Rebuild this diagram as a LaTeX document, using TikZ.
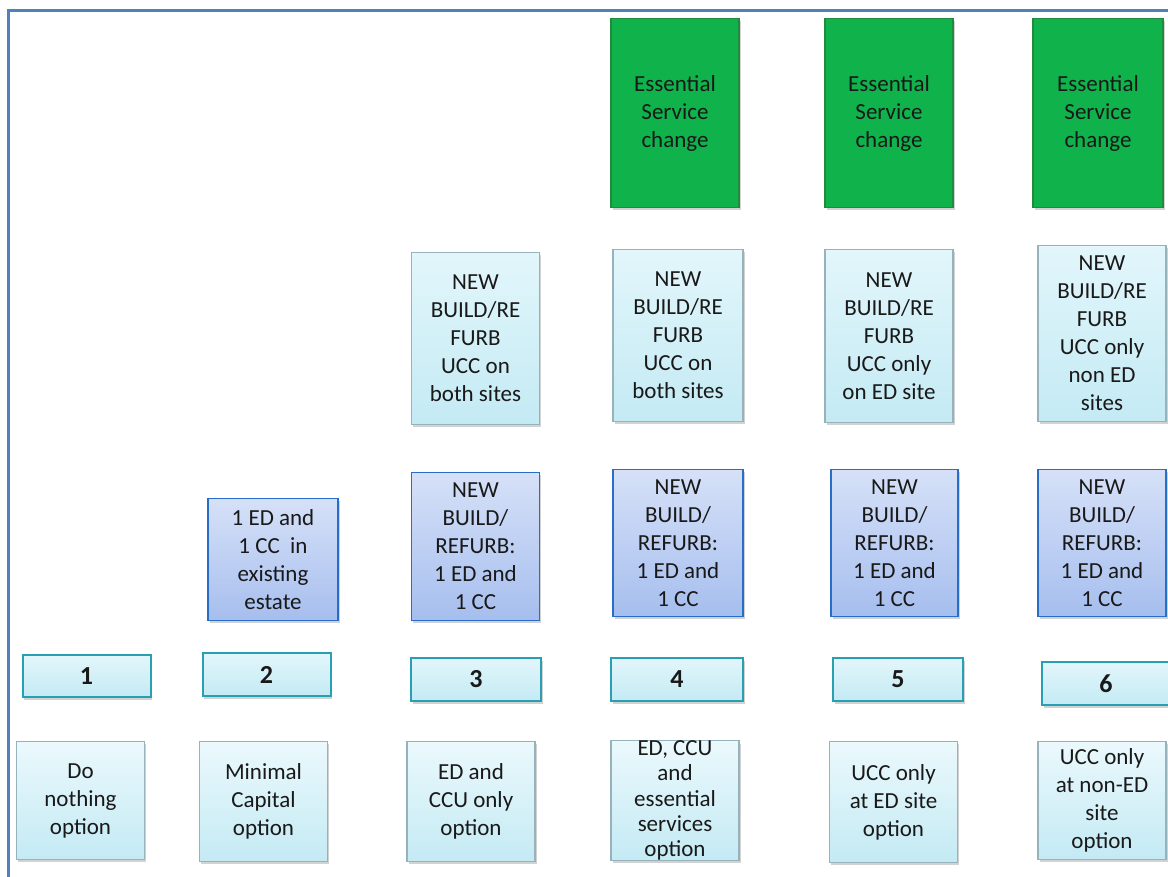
\documentclass[tikz,border=0pt]{standalone}
\usepackage{fontspec}
\setmainfont{Carlito}
\usepackage{xcolor}
\usepackage{tikz}
\usetikzlibrary{shadows}
\definecolor{frameblue}{RGB}{79,129,189}
\definecolor{esgreen}   {RGB}{16,178,76}
\definecolor{esedge}    {RGB}{30,140,60}
\definecolor{palecyan}  {RGB}{226,246,251}
\definecolor{softcyan}  {RGB}{196,234,244}
\definecolor{greyedge}  {RGB}{150,178,186}
\definecolor{paleblue}  {RGB}{214,225,248}
\definecolor{softblue}  {RGB}{166,190,238}
\definecolor{blueedge}  {RGB}{40,110,200}
\definecolor{tealedge}  {RGB}{40,160,178}

\tikzset{
  box/.style={draw, line width=0.6pt, align=center, inner sep=0pt,
    minimum width=64pt, text=black!90,
    font=\fontsize{11.5}{14}\selectfont,
    drop shadow={shadow xshift=0.8pt, shadow yshift=-1.4pt, opacity=0.35}},
  esbox/.style={box, fill=esgreen, draw=esedge},
  uccbox/.style={box, top color=palecyan, bottom color=softcyan, draw=greyedge},
  edbox/.style={box, top color=paleblue, bottom color=softblue, draw=blueedge, line width=0.8pt},
  numbox/.style={box, top color=palecyan, bottom color=softcyan, draw=tealedge, line width=1pt,
    font=\fontsize{13}{14}\selectfont\bfseries},
  optbox/.style={box, top color=palecyan!70!white, bottom color=softcyan, draw=greyedge},
}

\begin{document}
\begin{tikzpicture}[x=0.5pt,y=-0.5pt]
  \useasboundingbox (0,0) rectangle (1168,877);
  \fill[white] (0,0) rectangle (1168,877);
  \draw[frameblue, line width=1.5pt] (1168,11) -- (8,11) -- (8,877);

  % essential service change
  \node[esbox, minimum height=94.5pt] (es4) at (675,113) {Essential\\Service\\change};
  \node[esbox, minimum height=94.5pt] (es5) at (889,113) {Essential\\Service\\change};
  \node[esbox, minimum height=94.5pt, minimum width=65pt] (es6) at (1098,113) {Essential\\Service\\change};

  % new build / refurb UCC
  \node[uccbox, minimum height=86pt] (ucc3) at (475.5,338.5) {NEW\\BUILD/RE\\FURB\\UCC on\\both sites};
  \node[uccbox, minimum height=86pt, minimum width=65pt] (ucc4) at (678,335.5) {NEW\\BUILD/RE\\FURB\\UCC on\\both sites};
  \node[uccbox, minimum height=86.5pt] (ucc5) at (889,336) {NEW\\BUILD/RE\\FURB\\UCC only\\on ED site};
  \node[uccbox, minimum height=88pt] (ucc6) at (1102,333.5) {NEW\\BUILD/RE\\FURB\\UCC only\\non ED\\sites};

  % ED and CC
  \node[edbox, minimum height=61pt, minimum width=65pt] (ed2) at (273,559.5) {1 ED and\\1 CC~ in\\existing\\estate};
  \node[edbox, minimum height=74pt] (ed3) at (475.5,546.5) {NEW\\BUILD/\\REFURB:\\1 ED and\\1 CC};
  \node[edbox, minimum height=73.5pt, minimum width=65pt] (ed4) at (678,543) {NEW\\BUILD/\\REFURB:\\1 ED and\\1 CC};
  \node[edbox, minimum height=73.5pt, minimum width=63.5pt] (ed5) at (894.5,543) {NEW\\BUILD/\\REFURB:\\1 ED and\\1 CC};
  \node[edbox, minimum height=73.5pt] (ed6) at (1102,543) {NEW\\BUILD/\\REFURB:\\1 ED and\\1 CC};

  % option numbers
  \node[numbox, minimum height=21pt] (n1) at (86.5,676) {1};
  \node[numbox, minimum height=21.5pt] (n2) at (266.5,674.5) {2};
  \node[numbox, minimum height=21.5pt, minimum width=65pt] (n3) at (476,679.5) {3};
  \node[numbox, minimum height=21.5pt, minimum width=66pt] (n4) at (677,679.5) {4};
  \node[numbox, minimum height=21.5pt, minimum width=65pt] (n5) at (898,679.5) {5};
  \node[numbox, minimum height=21.5pt] (n6) at (1106,683.5) {6};

  % option names
  \node[optbox, minimum height=59pt] (opt1) at (80.5,800.5) {Do\\nothing\\option};
  \node[optbox, minimum height=60pt] (opt2) at (263.5,801.5) {Minimal\\Capital\\option};
  \node[optbox, minimum height=60pt] (opt3) at (471,801.5) {ED and\\CCU only\\option};
  \node[optbox, minimum height=59pt, font=\fontsize{11.5}{12.6}\selectfont] (opt4) at (675,800.5) {ED, CCU\\and\\essential\\services\\option};
  \node[optbox, minimum height=60.5pt] (opt5) at (893.5,802) {UCC only\\at ED site\\option};
  \node[optbox, minimum height=59pt] (opt6) at (1102,800.5) {UCC only\\at non-ED\\site\\option};
\end{tikzpicture}
\end{document}
